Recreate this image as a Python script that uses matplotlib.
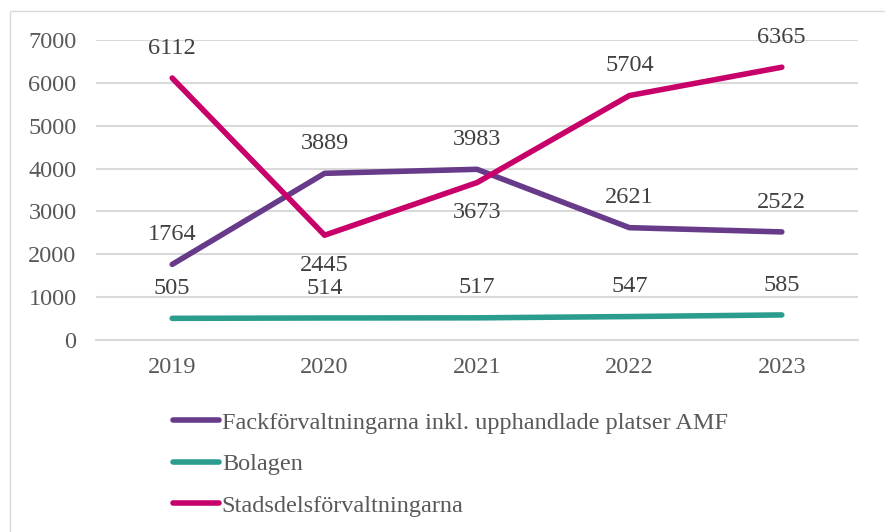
import matplotlib.pyplot as plt
from matplotlib.patches import Rectangle

plt.rcParams['font.family'] = ['Liberation Serif', 'DejaVu Serif']

years = ["2019", "2020", "2021", "2022", "2023"]
fack = [1764, 3889, 3983, 2621, 2522]
bolagen = [505, 514, 517, 547, 585]
stadsdel = [6112, 2445, 3673, 5704, 6365]

names = ["Fackförvaltningarna inkl. upphandlade platser AMF", "Bolagen", "Stadsdelsförvaltningarna"]
colors = ["#673a8a", "#2a9d8f", "#c8006a"]

# label placement: +1 above, -1 below
fack_pos = [1, 1, 1, 1, 1]
bol_pos = [1, 1, 1, 1, 1]
stad_pos = [1, -1, -1, 1, 1]

txt = "#595959"
grid = "#d9d9d9"
fs = 17.5

fig = plt.figure(figsize=(8.85, 5.32), dpi=100)
fig.patches.append(Rectangle((10 / 885, -0.1), 1.2, 1 - 11 / 532 + 0.1,
                             transform=fig.transFigure, fill=False,
                             edgecolor=grid, lw=1))
ax = fig.add_axes([96 / 885, 1 - 340 / 532, (858 - 96) / 885, 300 / 532])

x = list(range(len(years)))
series = [(fack, fack_pos), (bolagen, bol_pos), (stadsdel, stad_pos)]
for (vals, pos), name, c in zip(series, names, colors):
    ax.plot(x, vals, color=c, lw=4, solid_capstyle="round", label=name, zorder=3)
    for xi, v, p in zip(x, vals, pos):
        ax.annotate(str(v), (xi, v), xytext=(0, 21.5 * p), textcoords="offset points",
                    ha="center", va="center", fontsize=fs, color="#404040")

ax.set_xlim(-0.5, len(years) - 0.5)
ax.set_ylim(0, 7000)
ax.set_yticks(range(0, 7001, 1000))
ax.set_xticks(x)
ax.set_xticklabels(years)
ax.tick_params(length=0, labelsize=fs, labelcolor=txt)
ax.tick_params(axis="x", pad=12)
ax.tick_params(axis="y", pad=14)
ax.yaxis.grid(True, color=grid, lw=1.5)
ax.set_axisbelow(True)
for s in ax.spines.values():
    s.set_visible(False)
ax.spines["bottom"].set_visible(True)
ax.spines["bottom"].set_color(grid)
ax.spines["bottom"].set_linewidth(1.5)

fig.legend(loc="upper left", bbox_to_anchor=(163 / 885, 1 - 402 / 532), frameon=False,
           fontsize=fs, labelcolor=txt, handlelength=1.9, handletextpad=0.12,
           labelspacing=0.8, borderaxespad=0)

fig.savefig("out.png", dpi=100)
